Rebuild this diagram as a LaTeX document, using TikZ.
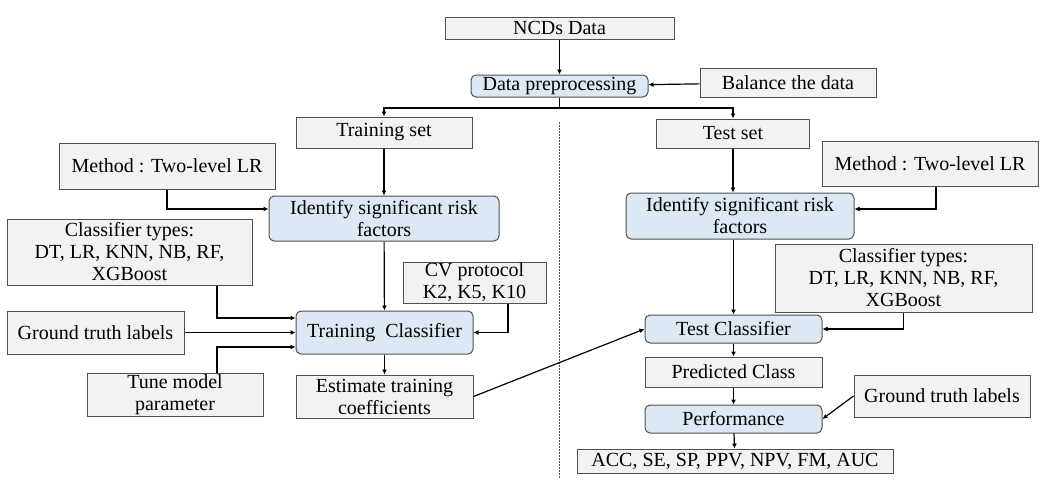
\documentclass[tikz,border=0pt]{standalone}
\usepackage{fontspec}
\setmainfont{Liberation Serif}
\usetikzlibrary{arrows.meta}

\definecolor{boxgray}{HTML}{F2F2F2}
\definecolor{boxblue}{HTML}{DDE8F5}
\definecolor{edgegray}{HTML}{505050}

\tikzset{
  graybox/.style={draw=edgegray,fill=boxgray,line width=1pt,inner sep=0pt,align=center,
    font=\fontsize{20}{22}\selectfont},
  bluebox/.style={graybox,fill=boxblue,rounded corners=5pt},
  arr/.style={-{Latex[length=5pt,width=5pt]},line width=1.2pt,black},
}

\begin{document}
\begin{tikzpicture}[x=1pt,y=-1pt]
    \useasboundingbox (0,0) rectangle (1039,480);
    % top part
    \node[graybox,minimum width=229,minimum height=22] (ncd) at (559.5,28) {NCDs Data};
    \node[bluebox,minimum width=177,minimum height=22] (prep) at (559.5,86) {Data preprocessing};
    \node[graybox,minimum width=176,minimum height=29] (balance) at (788,82.5) {Balance the data};
    \node[graybox,minimum width=176,minimum height=31] (trainset) at (384,132.5) {Training set};
    \node[graybox,minimum width=153,minimum height=29] (testset) at (733,133.5) {Test set};
    \coordinate (split) at (559.5,108);
    % training side
    \node[graybox,minimum width=216,minimum height=46] (methodL) at (167,166) {Method : Two-level LR};
    \node[bluebox,minimum width=230,minimum height=45] (identL) at (384,218.5) {Identify significant risk\\factors};
    \node[graybox,minimum width=245,minimum height=66] (classL) at (129.5,252) {Classifier types:\\DT, LR, KNN, NB, RF,\\XGBoost};
    \node[graybox,minimum width=143,minimum height=41] (cv) at (474.5,282.5) {CV protocol\\K2, K5, K10};
    \node[bluebox,minimum width=177,minimum height=43] (trainclf) at (384.5,332.5) {Training~~Classifier};
    \node[graybox,minimum width=177,minimum height=43] (gtL) at (95.5,332.5) {Ground truth labels};
    \node[graybox,minimum width=176,minimum height=43] (tune) at (175,394.5) {Tune model\\parameter};
    \node[graybox,minimum width=177,minimum height=43] (estimate) at (384.5,396.5) {Estimate training\\coefficients};
    % test side
    \node[graybox,minimum width=216,minimum height=45] (methodR) at (930,163.5) {Method : Two-level LR};
    \node[bluebox,minimum width=228,minimum height=46] (identR) at (740,216) {Identify significant risk\\factors};
    \node[graybox,minimum width=257,minimum height=68] (classR) at (903.5,278) {Classifier types:\\DT, LR, KNN, NB, RF,\\XGBoost};
    \node[bluebox,minimum width=177,minimum height=28] (testclf) at (733.5,329) {Test Classifier};
    \node[graybox,minimum width=177,minimum height=30] (pred) at (733.5,372) {Predicted Class};
    \node[bluebox,minimum width=177,minimum height=28] (perf) at (733.5,419) {Performance};
    \node[graybox,minimum width=176,minimum height=42] (gtR) at (942,396) {Ground truth labels};
    \node[graybox,minimum width=316,minimum height=24] (acc) at (735,461) {ACC, SE, SP, PPV, NPV, FM, AUC};
    % separator
    \draw[edgegray,line width=1pt,dash pattern=on 1.5pt off 1.5pt] (559,122) -- (559,478);
    % connectors
    \draw[arr] (ncd) -- (prep);
    \draw[arr] (balance) -- (prep);
    \draw[line width=1.2pt] (prep) -- (split);
    \draw[arr] (split) -| (trainset.north);
    \draw[arr] (split) -| (testset.north);
    \draw[arr] (trainset) -- (identL);
    \draw[arr] (methodL.south) |- ([yshift=9.5pt]identL.west);
    \draw[arr] (testset.south) -- (testset.south |- identR.north);
    \draw[arr] ([xshift=6pt]methodR.south) |- ([yshift=7pt]identR.east);
    \draw[arr] (identL) -- (trainclf);
    \draw[arr] ([xshift=87.5pt]classL.south) |- ([yshift=14.5pt]trainclf.west);
    \draw[arr] (gtL) -- (trainclf);
    \draw[arr] ([xshift=42pt]tune.north) |- ([yshift=-14.5pt]trainclf.west);
    \draw[arr] ([xshift=33.5pt]cv.south) |- (trainclf.east);
    \draw[arr] (trainclf) -- (estimate);
    \draw[arr] (estimate.east) -- (testclf.west);
    \draw[arr] (identR.south -| testclf.north) -- (testclf.north);
    \draw[arr] (classR.south) |- (testclf.east);
    \draw[arr] (testclf) -- (pred);
    \draw[arr] (pred) -- (perf);
    \draw[arr] (perf) -- (acc);
    \draw[arr] (gtR.west) -- (perf.east);
\end{tikzpicture}
\end{document}
